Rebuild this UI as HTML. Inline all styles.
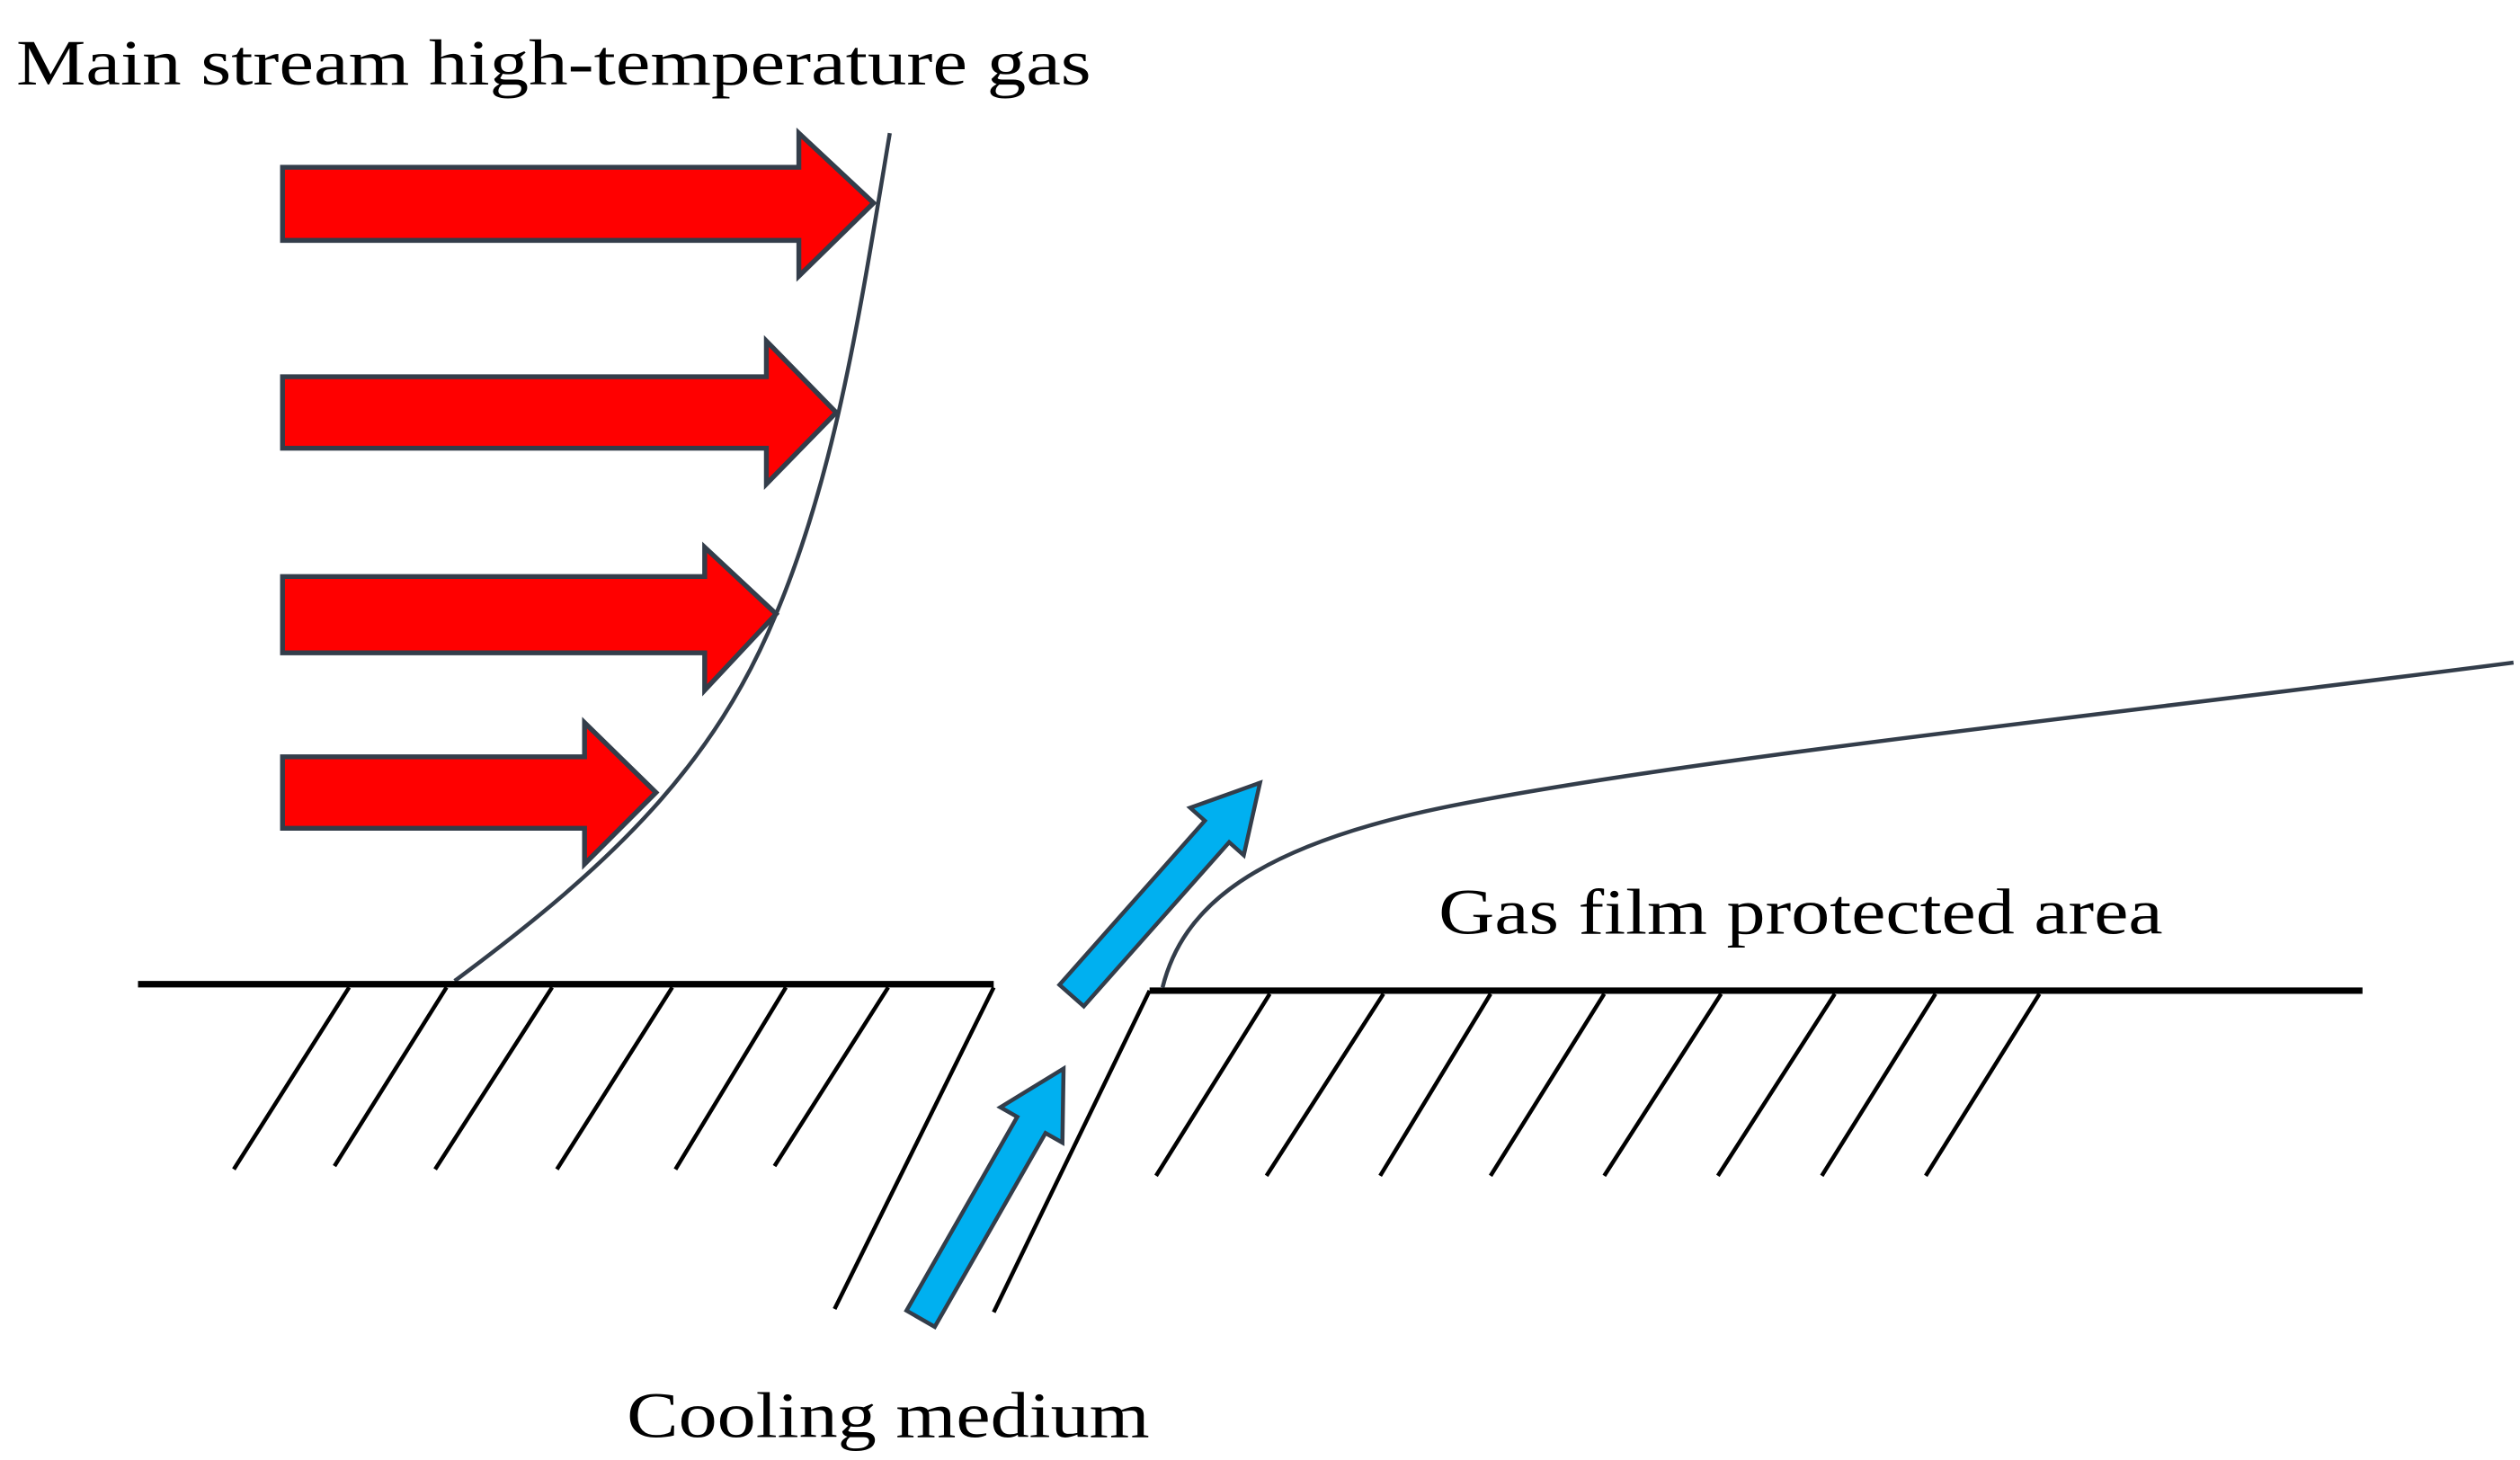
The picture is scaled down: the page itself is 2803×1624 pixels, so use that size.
<!DOCTYPE html>
<html><head><meta charset="utf-8"><style>
html,body{margin:0;padding:0;background:#fff;}
svg{display:block;}
text{font-family:"Liberation Serif",serif;fill:#000;}
</style></head><body>
<svg width="2803" height="1624" viewBox="0 0 1552 899" preserveAspectRatio="none" xmlns="http://www.w3.org/2000/svg">
<text x="10" y="52" font-size="40" textLength="662" lengthAdjust="spacingAndGlyphs">Main stream high-temperature gas</text>
<g fill="#ff0000" stroke="#333d4a" stroke-width="3">
<polygon points="174,103 492,103 492,82 538,125 492,170 492,148 174,148"/>
<polygon points="174,232 472,232 472,210 515,254 472,298 472,276 174,276"/>
<polygon points="174,355 434,355 434,337 478,378 434,425 434,402 174,402"/>
<polygon points="174,466 360,466 360,445 404,488 360,532 360,510 174,510"/>
</g>
<path d="M548,82 C530,190 515,290 478,378 C440,470 380,530 280,604" fill="none" stroke="#333d4a" stroke-width="2.5"/>
<g stroke="#000" stroke-width="2.5" fill="none">
<line x1="85" y1="606" x2="612" y2="606" stroke-width="4"/>
<line x1="708" y1="610" x2="1455" y2="610" stroke-width="4"/>
<line x1="144" y1="720" x2="215" y2="608"/>
<line x1="206" y1="718" x2="275" y2="608"/>
<line x1="268" y1="720" x2="340" y2="608"/>
<line x1="343" y1="720" x2="414" y2="608"/>
<line x1="416" y1="720" x2="484" y2="608"/>
<line x1="477" y1="718" x2="547" y2="608"/>
<line x1="514" y1="806" x2="612" y2="608"/>
<line x1="612" y1="808" x2="708" y2="610"/>
<line x1="712" y1="724" x2="782" y2="612"/>
<line x1="780" y1="724" x2="852" y2="612"/>
<line x1="850" y1="724" x2="918" y2="612"/>
<line x1="918" y1="724" x2="988" y2="612"/>
<line x1="988" y1="724" x2="1060" y2="612"/>
<line x1="1058" y1="724" x2="1130" y2="612"/>
<line x1="1122" y1="724" x2="1192" y2="612"/>
<line x1="1186" y1="724" x2="1256" y2="612"/>
</g>
<g fill="#00b0f0" stroke="#333d4a" stroke-width="2.5">
<polygon points="575.7,817 643.9,697.7 654.3,703.6 655,658 616.1,681.8 626.5,687.7 558.3,807"/>
<polygon points="667.5,619.6 757,518.6 766,526.6 776,482 733,497.4 742,505.4 652.5,606.4"/>
</g>
<path d="M716,608 C728,560 770,520 900,495 C1050,466 1300,440 1548,408" fill="none" stroke="#333d4a" stroke-width="2.5"/>
<text x="886" y="575" font-size="40" textLength="446" lengthAdjust="spacingAndGlyphs">Gas film protected area</text>
<text x="386" y="885" font-size="40" textLength="322" lengthAdjust="spacingAndGlyphs">Cooling medium</text>
</svg>
</body></html>
